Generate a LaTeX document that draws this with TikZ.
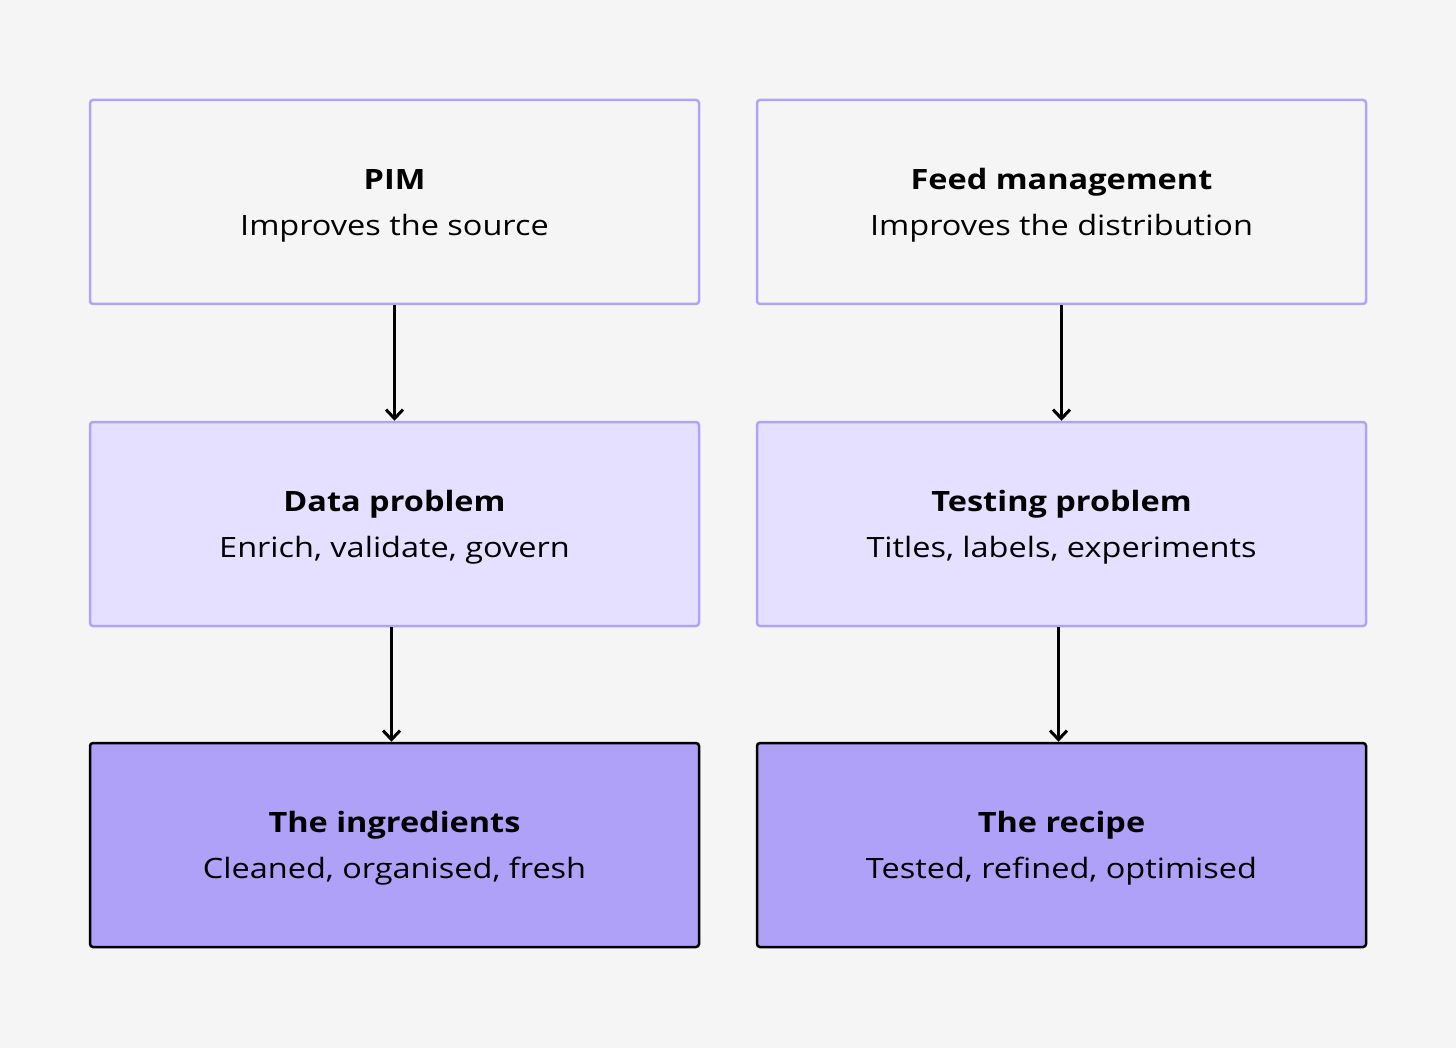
\documentclass[tikz,border=0pt]{standalone}
\usepackage{fontspec}
\setmainfont{Open Sans}[FakeStretch=1.16]
\usetikzlibrary{arrows.meta}
\definecolor{bg}{HTML}{F5F5F5}
\definecolor{lightedge}{HTML}{B0A4F8}
\definecolor{lightfill}{HTML}{E5E0FF}
\definecolor{darkfill}{HTML}{AFA0F8}
\tikzset{
  box/.style={rectangle, rounded corners=3pt, line width=2.5pt, minimum width=609pt, minimum height=204pt, align=center, text=black, font=\fontsize{28}{46}\selectfont, inner sep=0pt, text height=75pt, text depth=8pt},
  topbox/.style={box, draw=lightedge, fill=bg},
  midbox/.style={box, draw=lightedge, fill=lightfill},
  botbox/.style={box, draw=black, fill=darkfill},
  flow/.style={line width=3pt, -{Straight Barb[length=9pt,width=17pt,line width=3pt]}}
}
\begin{document}
\begin{tikzpicture}[x=1pt,y=-1pt]
\fill[bg] (0,0) rectangle (1456,1048);
\useasboundingbox (0,0) rectangle (1456,1048);
\node[topbox] (p1) at (394.5,202) {\textbf{PIM}\\Improves the source};
\node[topbox] (p2) at (1061.5,202) {\textbf{Feed management}\\Improves the distribution};
\node[midbox] (d1) at (394.5,524) {\textbf{Data problem}\\Enrich, validate, govern};
\node[midbox] (d2) at (1061.5,524) {\textbf{Testing problem}\\Titles, labels, experiments};
\node[botbox] (i1) at (394.5,845) {\textbf{The ingredients}\\Cleaned, organised, fresh};
\node[botbox] (i2) at (1061.5,845) {\textbf{The recipe}\\Tested, refined, optimised};
\draw[flow] (p1.south) -- (d1.north);
\draw[flow] (p2.south) -- (d2.north);
\draw[flow] ([xshift=-3pt]d1.south) -- ([xshift=-3pt]i1.north);
\draw[flow] ([xshift=-3pt]d2.south) -- ([xshift=-3pt]i2.north);
\end{tikzpicture}
\end{document}
